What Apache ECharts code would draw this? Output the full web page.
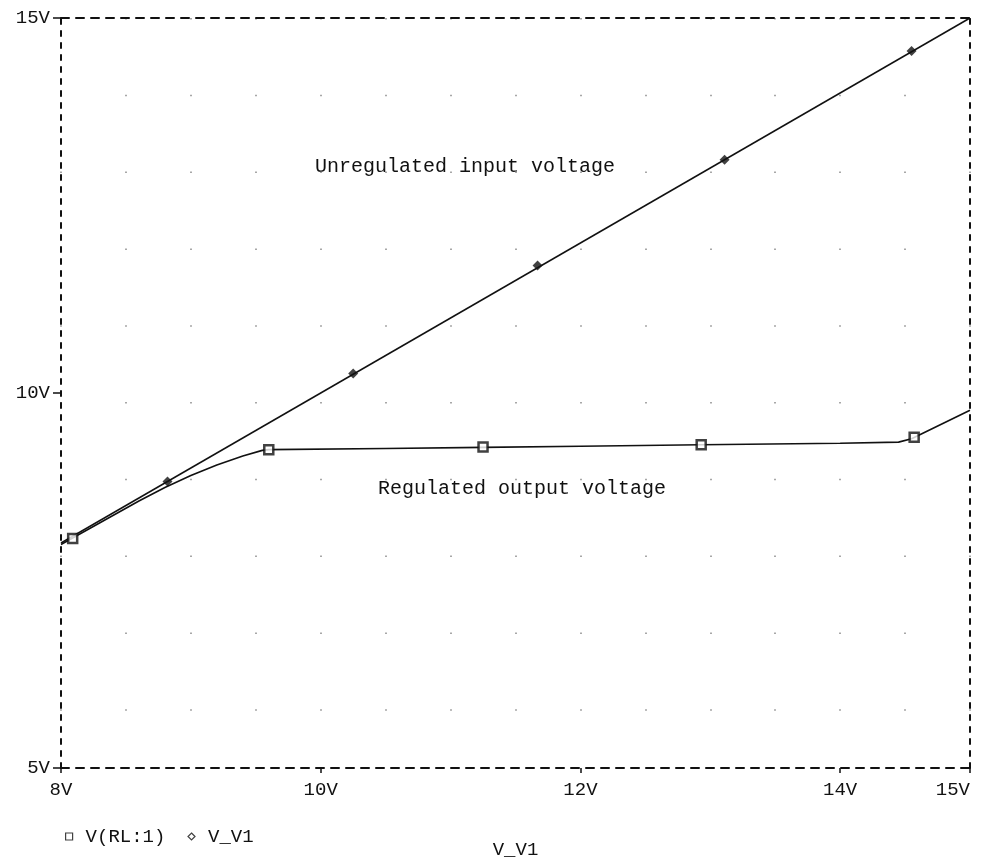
<!DOCTYPE html>
<html>
<head>
<meta charset="utf-8">
<script src="https://cdn.jsdelivr.net/npm/echarts@6/dist/echarts.min.js"></script>
<style>
  html, body { margin: 0; background: #fff; }
  #main { width: 982px; height: 864px; }
</style>
</head>
<body>
<div id="main"></div>
<script>
// V_V1 sweep (x) in volts
const xMin = 8, xMax = 15;
const yMin = 5, yMax = 15;

// unregulated input, V_V1 vs itself
const vInput = [[8, 8], [15, 15]];
// regulated output V(RL:1)
const vOutput = [
  [8.0, 7.98], [8.3, 8.27], [8.6, 8.56], [8.8, 8.74], [9.0, 8.90],
  [9.2, 9.04], [9.4, 9.16], [9.55, 9.235], [9.6, 9.245], [10.5, 9.26],
  [11.25, 9.275], [12.0, 9.29], [12.93, 9.31], [14.0, 9.33], [14.45, 9.345],
  [14.55, 9.39], [15.0, 9.77]
];
// marker positions as printed on the traces
const inputMarks = [[8.82, 8.82], [10.25, 10.26], [11.67, 11.70], [13.11, 13.11], [14.55, 14.56]];
const outputMarks = [[8.09, 8.06], [9.6, 9.245], [11.25, 9.28], [12.93, 9.31], [14.57, 9.41]];

const FONT = '"Liberation Mono", "DejaVu Sans Mono", monospace';
const INK = '#111';

const chart = echarts.init(document.getElementById('main'));

const dashX = { color: INK, width: 2, type: [8, 7] };
const dashY = { color: INK, width: 2, type: [5, 7] };
const gridDots = { color: '#8a8a8a', width: 1.5, type: [1.5, 75.3] };

const option = {
  backgroundColor: '#fff',
  animation: false,
  grid: { left: 61, right: 12, top: 18, bottom: 78 },
  legend: {
    left: 60, top: 822,
    itemWidth: 7, itemHeight: 7, itemGap: 22,
    data: [
      { name: 'V(RL:1)', icon: 'rect' },
      { name: 'V_V1', icon: 'diamond' }
    ],
    itemStyle: { color: '#fff', borderColor: INK, borderWidth: 1.2 },
    textStyle: { fontFamily: FONT, fontSize: 19, color: INK, padding: [0, 0, 0, 8] }
  },
  xAxis: [
    {
      type: 'value', min: xMin, max: xMax, interval: 2, position: 'bottom',
      name: 'V_V1', nameLocation: 'middle', nameGap: 72,
      nameTextStyle: { fontFamily: FONT, fontSize: 19, color: INK },
      axisLine: { show: true, lineStyle: dashX },
      axisTick: { show: true, length: 5, lineStyle: { color: INK, width: 1.5 } },
      axisLabel: {
        formatter: v => v + 'V', margin: 12, alignMaxLabel: 'right',
        fontFamily: FONT, fontSize: 19, color: INK
      },
      minorTick: { show: false, splitNumber: 4 },
      splitLine: { show: true, lineStyle: gridDots },
      minorSplitLine: { show: true, lineStyle: gridDots }
    },
    {
      type: 'value', min: xMin, max: xMax, position: 'top',
      axisLine: { show: true, lineStyle: dashX },
      axisTick: { show: false }, axisLabel: { show: false }, splitLine: { show: false }
    }
  ],
  yAxis: [
    {
      type: 'value', min: yMin, max: yMax, interval: 5, position: 'left',
      axisLine: { show: true, lineStyle: dashY },
      axisTick: { show: true, length: 8, lineStyle: { color: INK, width: 1.5 } },
      axisLabel: {
        formatter: v => v + 'V', margin: 11,
        fontFamily: FONT, fontSize: 19, color: INK
      },
      splitLine: { show: false }
    },
    {
      type: 'value', min: yMin, max: yMax, position: 'right',
      axisLine: { show: true, lineStyle: dashY },
      axisTick: { show: false }, axisLabel: { show: false }, splitLine: { show: false }
    }
  ],
  series: [
    {
      name: 'input', type: 'line', data: vInput, showSymbol: false,
      lineStyle: { color: INK, width: 1.5 }, z: 3
    },
    {
      name: 'output', type: 'line', data: vOutput, showSymbol: false,
      lineStyle: { color: INK, width: 1.6 }, z: 3
    },
    {
      name: 'V_V1', type: 'scatter', data: inputMarks,
      symbol: 'diamond', symbolSize: 10,
      itemStyle: { color: INK }, z: 4
    },
    {
      name: 'V(RL:1)', type: 'scatter', data: outputMarks,
      symbol: 'rect', symbolSize: 9,
      itemStyle: { color: '#fff', borderColor: INK, borderWidth: 2.5 }, z: 4
    }
  ],
  graphic: [
    {
      type: 'text', left: 315, top: 157,
      style: { text: 'Unregulated input voltage', font: '20px ' + FONT, fill: INK }
    },
    {
      type: 'text', left: 378, top: 479,
      style: { text: 'Regulated output voltage', font: '20px ' + FONT, fill: INK }
    }
  ]
};

chart.setOption(option);
</script>
</body>
</html>
